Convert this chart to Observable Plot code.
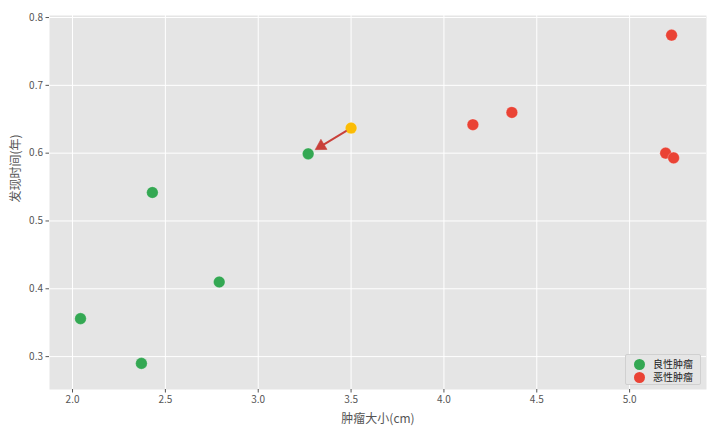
<!DOCTYPE html>
<html>
<head>
<meta charset="utf-8">
<script src="https://cdn.jsdelivr.net/npm/d3@7"></script>
<script src="https://cdn.jsdelivr.net/npm/@observablehq/plot@0.6"></script>
<style>
  html, body { margin: 0; padding: 0; background: #fff; }
  #wrap { position: relative; width: 720px; height: 432px; font-family: "Noto Sans CJK SC", "DejaVu Sans", sans-serif; }
  #legend { position: absolute; left: 625px; top: 354px; width: 76px; height: 31px; background: #e5e5e5; border: 1px solid #d0d0d0; border-radius: 2px; box-sizing: border-box; font-size: 10px; color: #222; }
  .row { position: absolute; left: 0; height: 14px; line-height: 14px; }
  .sw { position: absolute; left: 8px; top: 2px; width: 11px; height: 11px; border-radius: 50%; }
  .lb { position: absolute; left: 27px; white-space: nowrap; }
</style>
</head>
<body>
<div id="wrap"></div>
<script>
// Data
const benignSize = [2.043, 2.371, 2.430, 2.790, 3.269];
const benignTime = [0.356, 0.290, 0.542, 0.410, 0.599];
const malignantSize = [4.156, 4.366, 5.226, 5.194, 5.237];
const malignantTime = [0.642, 0.660, 0.774, 0.600, 0.593];
const newSize = [3.50];
const newTime = [0.637];
const xTicks = [2.0, 2.5, 3.0, 3.5, 4.0, 4.5, 5.0];
const yTicks = [0.3, 0.4, 0.5, 0.6, 0.7, 0.8];
const legendLabels = ["良性肿瘤", "恶性肿瘤"];
const colors = {benign: "#34a853", malignant: "#ea4335", fresh: "#fbbc05", arrow: "#c9403a"};

const benign = benignSize.map((x, i) => ({x, y: benignTime[i]}));
const malignant = malignantSize.map((x, i) => ({x, y: malignantTime[i]}));
const fresh = newSize.map((x, i) => ({x, y: newTime[i]}));
// arrow from the new point to the nearest benign point
const arrowData = [{x1: newSize[0], y1: newTime[0], x2: benignSize[4], y2: benignTime[4]}];

const font = '"Noto Sans CJK SC", "DejaVu Sans", sans-serif';
const fmt = d3.format(".1f");
const xDomain = [1.876, 5.414];
const yDomain = [0.2515, 0.803];

function makeChart(head) {
  const marks = [
    Plot.frame({fill: "#e5e5e5", stroke: null}),
    Plot.gridX(xTicks, {stroke: "#fff", strokeOpacity: 1, strokeWidth: 1}),
    Plot.gridY(yTicks, {stroke: "#fff", strokeOpacity: 1, strokeWidth: 1}),
    Plot.axisX(xTicks, {tickSize: 3.5, stroke: "#555", tickPadding: 3, fill: "#555", fontSize: 10, tickFormat: fmt, label: null}),
    Plot.axisY(yTicks, {tickSize: 3.5, stroke: "#555", tickPadding: 3, fill: "#555", fontSize: 10, tickFormat: fmt, label: null}),
    Plot.dot(benign, {x: "x", y: "y", r: 5.8, fill: colors.benign, stroke: "#fff", strokeOpacity: 0.3, strokeWidth: 0.8}),
    Plot.dot(malignant, {x: "x", y: "y", r: 5.8, fill: colors.malignant, stroke: "#fff", strokeOpacity: 0.3, strokeWidth: 0.8}),
    Plot.dot(fresh, {x: "x", y: "y", r: 5.8, fill: colors.fresh, stroke: "#fff", strokeOpacity: 0.3, strokeWidth: 0.8}),
    Plot.arrow(arrowData, {x1: "x1", y1: "y1", x2: "x2", y2: "y2", stroke: colors.arrow, strokeWidth: 2, headLength: 0, insetStart: 6, insetEnd: 18}),
    Plot.text(["肿瘤大小(cm)"], {frameAnchor: "bottom", dy: 33, fontSize: 12, fill: "#555", text: d => d}),
    Plot.text(["发现时间(年)"], {frameAnchor: "left", dx: -33, rotate: -90, fontSize: 12, fill: "#555", text: d => d})
  ];
  if (head) {
    // filled arrow head placed at the benign end, pointing along the arrow
    marks.push(Plot.dot([arrowData[0]], {x: "x2", y: "y2", symbol: "triangle", r: 4.4, fill: colors.arrow, stroke: colors.arrow, strokeWidth: 0.5, rotate: head.rotate, dx: head.dx, dy: head.dy}));
  }
  return Plot.plot({
    width: 720,
    height: 432,
    marginLeft: 49,
    marginRight: 14,
    marginTop: 15,
    marginBottom: 43,
    style: {fontFamily: font, fontSize: "10px", color: "#555", background: "#fff"},
    x: {domain: xDomain, label: null},
    y: {domain: yDomain, label: null},
    marks
  });
}

// first pass to read scales, then compute arrow-head orientation in screen space
const probe = makeChart(null);
const sx = probe.scale("x"), sy = probe.scale("y");
const a = arrowData[0];
const px1 = sx.apply(a.x1), py1 = sy.apply(a.y1), px2 = sx.apply(a.x2), py2 = sy.apply(a.y2);
const ang = Math.atan2(py2 - py1, px2 - px1);
const back = 15; // centroid distance from benign point centre
const head = {
  rotate: ang * 180 / Math.PI + 90,
  dx: -Math.cos(ang) * back,
  dy: -Math.sin(ang) * back
};
const chart = makeChart(head);
const wrap = document.getElementById("wrap");
wrap.appendChild(chart);

const legend = document.createElement("div");
legend.id = "legend";
[colors.benign, colors.malignant].forEach((c, i) => {
  const row = document.createElement("div");
  row.className = "row";
  row.style.top = (1.5 + i * 13.5) + "px";
  row.style.width = "74px";
  const sw = document.createElement("span");
  sw.className = "sw";
  sw.style.background = c;
  const lb = document.createElement("span");
  lb.className = "lb";
  lb.textContent = legendLabels[i];
  row.appendChild(sw);
  row.appendChild(lb);
  legend.appendChild(row);
});
wrap.appendChild(legend);
</script>
</body>
</html>
